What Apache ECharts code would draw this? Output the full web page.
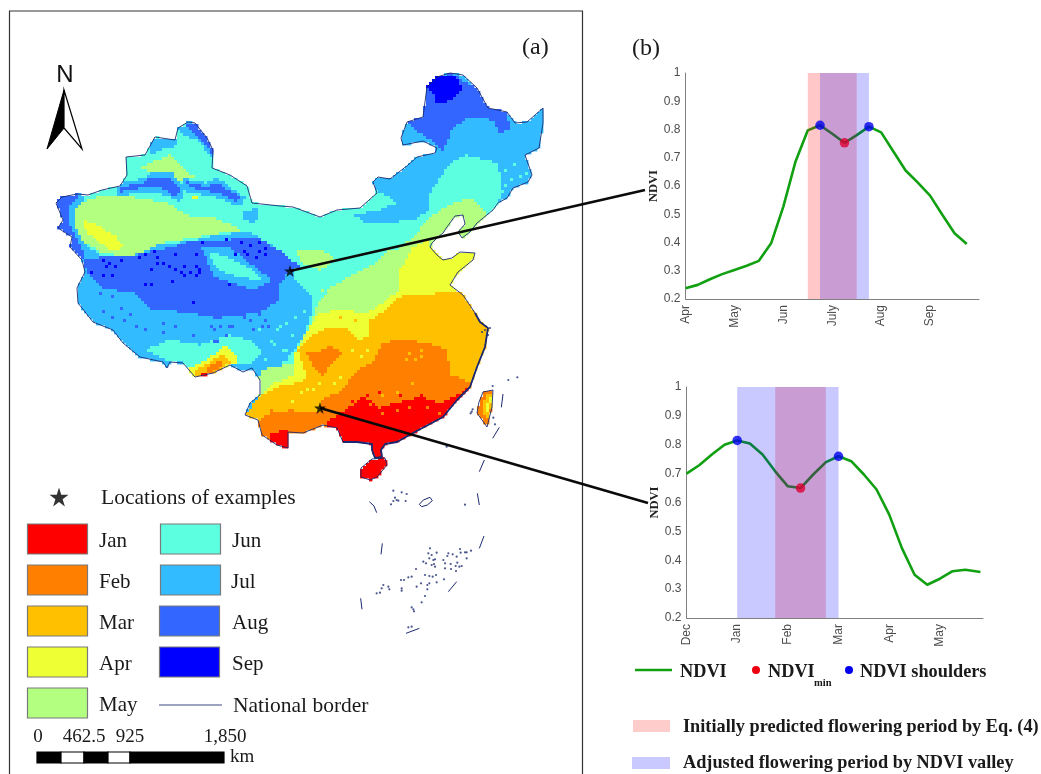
<!DOCTYPE html>
<html><head><meta charset="utf-8">
<style>html,body{margin:0;padding:0;background:#fff}#c{width:1041px;height:774px}</style>
<script src="https://cdn.jsdelivr.net/npm/echarts@6/dist/echarts.min.js"></script>
</head><body><div id="c"></div>
<script>
// ---------- panel (b) data ----------
const monthsTop = ['Apr','May','Jun','July','Aug','Sep',''];
const xTop = [0,1,2,3,4,5,6,7,8,9,10,11,12,13,14,15,16,17,18,19,20,21,22,23];
const ndviTop = [.238,.25,.27,.288,.303,.318,.335,.397,.527,.687,.797,.815,.785,.753,.78,.81,.79,.722,.655,.612,.566,.498,.433,.395];
const shouldersTop = [[11,.815],[15,.81]];
const minTop = [[13,.753]];
const predictedTop = [10,14];
const adjustedTop = [11,15];

const monthsBottom = ['Dec','Jan','Feb','Mar','Apr','May'];
const xBottom = [0,1,2,3,4,5,6,7,8,9,10,11,12,13,14,15,16,17,18,19,20,21,22,23.2];
const ndviBottom = [.7,.729,.766,.8,.815,.804,.766,.708,.656,.65,.697,.74,.76,.743,.697,.645,.558,.442,.35,.315,.336,.362,.367,.359];
const shouldersBottom = [[4,.815],[12,.76]];
const minBottom = [[9,.65]];
const predictedBottom = [7,11];
const adjustedBottom = [4,12];

// ---------- panel (a) data, in map units ----------
const monthNames = ['Jan','Feb','Mar','Apr','May','Jun','Jul','Aug','Sep'];
const monthColors = ['#FF0000','#FF7F00','#FFC000','#EEFF33','#B3FF80','#5CFFE0','#33BBFF','#3366FF','#0000FF'];
const mainland = [[56,203],[62,197],[77,194],[88,195],[102,190],[120,186],[127,175],[126,157],[145,155],[155,137],[175,140],[178,128],[188,122],[195,123],[207,138],[213,150],[212,168],[230,175],[247,186],[252,203],[280,206],[293,207],[320,217],[337,210],[360,208],[377,193],[373,182],[378,177],[390,179],[408,165],[417,157],[435,153],[437,148],[423,141],[403,145],[401,138],[407,122],[423,117],[427,87],[437,77],[450,73],[463,75],[477,88],[488,108],[507,112],[515,123],[527,122],[543,108],[543,123],[539,148],[525,155],[532,175],[528,182],[513,188],[507,198],[498,203],[493,210],[477,223],[470,232],[462,238],[458,232],[465,224],[463,215],[455,216],[447,227],[443,233],[438,237],[432,243],[430,247],[437,255],[443,260],[452,258],[460,252],[475,253],[473,260],[458,272],[450,285],[463,295],[475,313],[480,322],[488,328],[485,347],[477,367],[470,387],[457,400],[443,417],[413,433],[397,442],[385,444],[381,450],[382,457],[375,458],[372,450],[372,444],[357,442],[343,442],[337,428],[323,425],[303,433],[288,432],[288,448],[277,445],[262,435],[258,420],[245,415],[250,403],[260,395],[260,380],[252,368],[243,372],[230,365],[213,373],[195,377],[183,363],[170,362],[167,368],[163,362],[140,357],[123,343],[113,330],[93,322],[78,303],[77,288],[85,272],[82,260],[70,247],[72,237],[58,228],[63,220],[56,203]];
const southeastCoast = [[475,313],[480,322],[488,328],[485,347],[477,367],[470,387],[457,400],[443,417],[413,433],[397,442],[385,444],[381,450],[382,457],[375,458],[372,450],[372,444],[357,442],[343,442]];
const hainan = [[361,468],[372,459],[385,458],[387,465],[377,477],[370,480],[361,477],[361,468]];
const taiwan = [[483,392],[493,390],[492,407],[487,427],[477,413],[479,402],[483,392]];

const junNorth = [[50,190],[120,178],[125,150],[155,128],[178,118],[215,148],[250,178],[290,198],[320,212],[337,205],[377,190],[397,203],[380,210],[352,215],[367,223],[387,223],[413,220],[430,210],[430,193],[450,163],[467,155],[497,163],[500,173],[503,193],[497,203],[480,225],[500,300],[500,490],[255,490],[262,372],[280,367],[295,350],[303,337],[313,310],[312,297],[293,277],[295,265],[280,250],[250,232],[215,235],[187,242],[153,245],[125,258],[100,255],[78,240],[72,232],[60,215]];
const julDzungarRim = [[150,138],[175,138],[178,145],[160,150],[150,155]];
const mayTarim = [[72,207],[97,197],[120,195],[168,203],[190,217],[213,217],[243,230],[197,237],[163,243],[130,257],[100,252],[77,237],[70,220]];
const aprTarim = [[82,220],[93,223],[117,237],[123,248],[110,250],[87,233]];
const mayDzungar = [[140,167],[170,155],[187,173],[197,177],[173,185],[153,173]];
const aprTurpan = [[190,195],[198,197],[193,200]];
const julAltai = [[178,128],[195,123],[215,150],[213,160],[200,142],[185,135]];
const augAltai = [[187,123],[195,123],[213,147],[213,155],[207,147],[197,135],[187,128]];
const julTian1 = [[118,183],[145,178],[150,172],[172,172],[185,190],[180,202],[160,193],[140,193],[118,196]];
const augTian1 = [[120,187],[143,183],[150,177],[170,177],[180,190],[177,197],[160,188],[140,188],[120,192]];
const julTian2 = [[183,178],[207,183],[217,178],[245,197],[240,207],[220,198],[203,195],[183,191]];
const augTian2 = [[187,182],[207,187],[217,183],[240,197],[237,202],[220,193],[203,190],[188,187]];
const julHami = [[243,212],[258,208],[258,220],[250,223],[242,218]];
const julWest = [[56,203],[62,197],[88,193],[80,204],[74,212],[76,228],[90,255],[82,262],[70,247],[58,228]];
const augWest = [[56,203],[62,197],[77,194],[80,197],[70,206],[68,222],[75,235],[85,255],[82,260],[70,245],[58,228]];
const augTibet = [[83,258],[113,257],[137,255],[170,247],[197,240],[227,240],[257,237],[283,253],[300,267],[287,273],[280,285],[278,302],[257,313],[217,318],[187,312],[153,310],[133,293],[103,288],[87,273]];
const julQaidam = [[200,246],[230,248],[272,280],[255,290],[215,277]];
const junQaidam = [[210,252],[226,256],[257,273],[263,280],[243,278],[223,272],[212,262]];
const augNortheast = [[407,122],[423,117],[427,87],[450,73],[477,88],[488,108],[507,112],[510,130],[500,133],[493,120],[470,117],[453,128],[443,150],[428,138],[417,132]];
const sepNortheast = [[427,87],[437,77],[457,77],[463,90],[453,100],[437,105],[433,93]];
const junTibetSouth = [[145,350],[170,340],[200,345],[230,335],[250,340],[262,352],[250,365],[230,365],[213,372],[195,376],[183,362],[165,360]];
const aprTibetSouth = [[187,370],[210,357],[227,345],[240,362],[230,365],[213,373],[195,377]];
const marTibetSouth = [[193,372],[210,362],[223,353],[230,363],[213,373],[197,377]];
const febTibetSouth = [[203,370],[218,362],[227,363],[210,373]];
const janTibetSouth = [[196,375],[208,374],[207,378],[197,379]];
const mayEast = [[260,370],[293,363],[297,347],[310,327],[317,307],[330,287],[353,275],[377,262],[387,250],[397,250],[413,237],[430,217],[453,203],[473,198],[490,215],[510,490],[250,490]];
const mayPatch = [[297,250],[323,250],[337,260],[320,270],[300,262]];
const aprEast = [[260,397],[270,385],[295,375],[293,355],[303,340],[310,325],[320,313],[343,310],[367,313],[380,305],[400,290],[400,270],[413,247],[430,240],[430,247],[443,260],[460,252],[475,253],[490,260],[510,490],[250,490]];
const marEast = [[247,413],[258,397],[277,387],[297,383],[307,378],[302,363],[298,350],[313,335],[330,327],[350,330],[358,340],[370,337],[370,320],[387,310],[398,297],[450,292],[463,293],[510,300],[510,490],[245,490]];
const febSichuan = [[307,353],[323,350],[330,345],[343,353],[333,363],[323,375],[313,367]];
const febEast = [[255,423],[270,413],[290,410],[320,413],[323,398],[340,393],[347,383],[357,370],[373,363],[383,343],[403,339],[427,343],[447,350],[450,373],[467,382],[475,385],[510,490],[250,490]];
const janEast = [[328,420],[347,410],[363,397],[380,407],[397,403],[420,397],[440,403],[460,393],[470,387],[510,490],[330,490]];
const janWest = [[268,433],[288,430],[290,450],[275,448]];
const febTaiwan = [[475,388],[495,388],[495,430],[475,430]];
const marTaiwan = [[486,395],[492,394],[491,408],[487,418],[482,410]];
const aprTaiwan = [[488,398],[491,398],[490,410],[486,413]];

// month index, polygon: painted in this order, later over earlier
const mapLayers = [[5,junNorth],[6,julDzungarRim],[4,mayTarim],[3,aprTarim],[4,mayDzungar],[3,aprTurpan],[6,julAltai],[7,augAltai],[6,julTian1],[7,augTian1],[6,julTian2],[7,augTian2],[6,julHami],[6,julWest],[7,augWest],[7,augTibet],[6,julQaidam],[5,junQaidam],[7,augNortheast],[8,sepNortheast],[5,junTibetSouth],[3,aprTibetSouth],[2,marTibetSouth],[1,febTibetSouth],[0,janTibetSouth],[4,mayEast],[4,mayPatch],[3,aprEast],[2,marEast],[1,febSichuan],[1,febEast],[0,janEast],[0,janWest],[1,febTaiwan],[2,marTaiwan],[3,aprTaiwan]];

const speckSepTibet = [[100,90],[120,100],[135,105],[110,105],[150,95],[210,80],[230,70],[255,68],[315,70],[265,80],[280,100],[300,105],[265,103],[240,115],[380,75],[380,105],[385,115],[345,105],[320,115],[330,130],[360,125],[390,130],[310,150],[345,140],[375,140],[225,160],[240,160],[370,220],[60,125],[100,135],[130,140],[480,160],[510,40],[520,65],[545,50],[565,60],[530,75],[555,85],[590,55],[590,75],[465,30],[395,35],[495,70],[570,35]];
const speckAugTibet = [[90,190],[130,200],[150,235],[185,255],[225,295],[280,280],[280,310],[320,285],[200,290],[240,235],[130,260],[160,275],[420,290],[430,330],[370,320],[480,290],[520,260],[580,290],[465,320],[100,240],[420,220],[550,300],[430,200],[590,270]];
const speckJunTibet = [[250,350],[300,360],[340,340],[400,360],[440,350],[530,340],[570,300],[600,330],[620,300],[640,360],[650,280],[680,260]];
const speckMarEast = [[690,310],[705,330],[720,320],[680,330],[725,305],[830,345],[845,365],[815,370],[700,400],[655,430],[610,440],[480,200],[500,215],[530,210],[430,395]];
const speckFebEast = [[575,460],[610,490],[650,480],[690,470],[740,470],[780,490],[800,500],[600,470],[640,455],[300,490],[270,480],[350,510],[245,510],[280,510],[320,500]];
const speckJanEast = [[560,440],[600,425],[660,440],[720,435],[510,470],[750,455],[520,450]];
const speckAprEast = [[520,300],[545,320],[560,300],[480,385],[460,400],[360,430],[385,420],[335,450],[420,400],[400,415],[500,210],[520,205],[490,200]];
const speckMayEast = [[480,130],[520,110],[560,90],[560,150],[620,100],[600,60],[430,120],[480,170],[530,165],[420,160]];
const speckJunEast = [[300,230],[280,280],[340,260],[320,300],[260,330],[310,340],[220,300],[370,180]];
const speckAugEast = [[120,230],[100,240],[210,210],[240,190],[160,230],[265,230],[110,270]];
const speckJunNortheast = [[680,330],[700,310],[690,360],[720,350],[675,380],[735,340],[650,350]];
const speckLayers = [[8,70,230,speckSepTibet],[7,70,230,speckAugTibet],[5,70,230,speckJunTibet],[2,180,250,speckMarEast],[1,180,250,speckFebEast],[0,180,250,speckJanEast],[3,180,250,speckAprEast],[4,180,250,speckMayEast],[5,180,250,speckJunEast],[7,180,250,speckAugEast],[5,280,60,speckJunNortheast]];

// South China Sea marks, at 3x crop scale with origin (340,370)
const seaDashes = [[[88,395],[102,408],[110,428]],[[127,520],[123,553]],[[62,685],[66,718]],[[198,790],[238,775]],[[325,665],[350,635]],[[418,535],[432,498]],[[412,370],[418,405]],[[418,305],[433,270]],[[458,205],[478,172]],[[484,112],[489,72]],[[238,403],[250,390],[270,382],[277,392],[262,405],[245,410],[238,403]]];
const seaIslands = [[270,535],[265,550],[275,555],[290,548],[268,565],[280,570],[285,568],[275,585],[282,582],[258,580],[250,575],[285,590],[228,597],[205,622],[215,620],[183,630],[192,630],[255,615],[268,618],[278,620],[288,615],[243,640],[262,645],[290,637],[268,640],[312,628],[262,658],[185,655],[185,662],[230,650],[145,650],[148,658],[130,645],[125,655],[110,670],[120,668],[255,678],[245,697],[220,718],[215,712],[222,724],[325,550],[322,558],[338,553],[350,560],[360,537],[375,547],[380,547],[393,542],[362,548],[380,565],[352,578],[310,570],[315,580],[332,582],[347,588],[358,590],[315,595],[333,597],[348,603],[365,588],[205,772],[215,770],[160,362],[185,367],[200,372],[165,383],[170,390],[175,392],[197,393],[160,393],[153,403],[375,404],[395,125],[392,130],[398,118],[505,30],[532,22],[458,48],[460,143],[465,163],[320,230],[435,-120],[450,-126],[444,-105],[426,-114]];

const exampleSites = [[290,271],[320,408]];
const connectorTop = [[290,271],[645,190]];
const connectorBottom = [[320,408],[648,503]];

// ---------- build map cells ----------
function inside(p, poly){
  let c=false;
  for(let i=0,j=poly.length-1;i<poly.length;j=i++){
    const a=poly[i],b=poly[j];
    if((a[1]>p[1])!==(b[1]>p[1]) && p[0]<(b[0]-a[0])*(p[1]-a[1])/(b[1]-a[1])+a[0]) c=!c;
  }
  return c;
}
const CELL=3, X0=54, Y0=70;
const cellMap={};
for(let x=X0;x<550;x+=CELL)for(let y=Y0;y<485;y+=CELL){
  const p=[x+CELL/2,y+CELL/2];
  if(!(inside(p,mainland)||inside(p,hainan)||inside(p,taiwan))) continue;
  let m=6;
  for(const l of mapLayers) if(inside(p,l[1])) m=l[0];
  cellMap[x+'_'+y]=[x,y,m];
}
for(const s of speckLayers) for(const q of s[3]){
  const px=s[1]+q[0]/3, py=s[2]+q[1]/3;
  const x=X0+Math.floor((px-X0)/CELL)*CELL, y=Y0+Math.floor((py-Y0)/CELL)*CELL;
  if(cellMap[x+'_'+y]) cellMap[x+'_'+y][2]=s[0];
}
const cells=Object.values(cellMap);
const seaPt=q=>[340+q[0]/3,370+q[1]/3];

// ---------- helpers ----------
const serif='"Liberation Serif","Times New Roman",serif';
const sans='"Liberation Sans",Arial,sans-serif';
const T=(x,y,text,size,opt={})=>({type:'text',z:50,style:{x,y,text,fill:opt.fill||'#1a1a1a',font:(opt.bold?'bold ':'')+size+'px '+(opt.family||serif),textAlign:opt.align||'left',textVerticalAlign:'middle'}});
const R=(x,y,w,h,fill,stroke)=>({type:'rect',z:50,shape:{x,y,width:w,height:h},style:{fill,stroke:stroke||null,lineWidth:stroke?1.2:0}});
const borderBlue='#1b2a70';
const starPath='path://M50 0 L61.8 36.2 L100 36.2 L69.1 58.6 L80.9 95.1 L50 72.7 L19.1 95.1 L30.9 58.6 L0 36.2 L38.2 36.2 Z';

const legendLeft=[[0,524],[1,565],[2,606],[3,647],[4,688]];
const legendRight=[[5,524],[6,565],[7,606],[8,647]];
const graphics=[
  {type:'rect',z:1,shape:{x:9.5,y:11,width:573,height:790},style:{fill:'none',stroke:'#333',lineWidth:1.2}},
  T(522,48,'(a)',24), T(632,49,'(b)',24),
  T(65,75,'N',24,{family:sans,align:'center',fill:'#111'}),
  {type:'polygon',z:50,shape:{points:[[64,90],[47,149],[64,128]]},style:{fill:'#000',stroke:'#000',lineWidth:1}},
  {type:'polygon',z:50,shape:{points:[[64,90],[82,149],[64,128]]},style:{fill:'#fff',stroke:'#000',lineWidth:1.2}},
  T(101,498,'Locations of examples',21.5)
];
legendLeft.forEach(l=>{graphics.push(R(27.5,l[1],60,30,monthColors[l[0]],'#7a7a7a'));graphics.push(T(99,l[1]+17,monthNames[l[0]],21));});
legendRight.forEach((l,i)=>{const x=i<2?160.5:159.5;graphics.push(R(x,l[1],60,30,monthColors[l[0]],'#7a7a7a'));graphics.push(T(i===1?231:232,l[1]+17,monthNames[l[0]],21));});
graphics.push({type:'line',z:50,shape:{x1:159,y1:705,x2:222,y2:705},style:{stroke:'#3a4a80',lineWidth:1.2}});
graphics.push(T(233,706,'National border',21.5));
[['0',38],['462.5',84],['925',130],['1,850',225]].forEach(s=>graphics.push(T(s[1],737,s[0],19,{align:'center'})));
[[37,24,'#000'],[61,23,'#fff'],[84,24,'#000'],[108,22,'#fff'],[130,94,'#000']].forEach(b=>graphics.push(R(b[0],752,b[1],11,b[2],'#000')));
graphics.push(T(230,757,'km',19));
// right legend
graphics.push({type:'line',z:50,shape:{x1:635,y1:670,x2:672,y2:670},style:{stroke:'#11A011',lineWidth:2.5}});
graphics.push(T(680,672,'NDVI',18.3,{bold:true}));
graphics.push({type:'circle',z:50,shape:{cx:756,cy:670,r:4},style:{fill:'#EE0011'}});
graphics.push(T(768,672,'NDVI',18.3,{bold:true}));
graphics.push(T(814,683,'min',10.5,{bold:true}));
graphics.push({type:'circle',z:50,shape:{cx:849,cy:670,r:4},style:{fill:'#0000EE'}});
graphics.push(T(860,672,'NDVI shoulders',18.3,{bold:true}));
graphics.push(R(633,720,37,12,'#FFCCCC'));
graphics.push(T(683,727,'Initially predicted flowering period by Eq. (4)',18.3,{bold:true}));
graphics.push(R(632,757,38,12,'#C9C9FF'));
graphics.push(T(683,763,'Adjusted flowering period by NDVI valley',18.3,{bold:true}));

const pinkBand='rgba(255,0,0,0.22)', blueBand='rgba(0,0,255,0.21)';
function panel(idx,xs,ys,shoulders,mins,pred,adj){
  const g=idx+1;
  const ndviData=xs.map((x,i)=>[x,ys[i]]);
  return [
    {type:'line',name:'NDVI',xAxisIndex:g,yAxisIndex:g,data:ndviData,showSymbol:false,lineStyle:{color:'#11A011',width:2.6},z:2,silent:true,
      markArea:{silent:true,z:3,data:[
        [{xAxis:pred[0],yAxis:.2,itemStyle:{color:pinkBand}},{xAxis:pred[1],yAxis:1}],
        [{xAxis:adj[0],yAxis:.2,itemStyle:{color:blueBand}},{xAxis:adj[1],yAxis:1}]
      ]}},
    {type:'scatter',name:'NDVI shoulders',xAxisIndex:g,yAxisIndex:g,data:shoulders,symbolSize:9.5,itemStyle:{color:'#0000EE'},z:6,silent:true},
    {type:'scatter',name:'NDVImin',xAxisIndex:g,yAxisIndex:g,data:mins,symbolSize:9.5,itemStyle:{color:'#DD0033'},z:6,silent:true}
  ];
}
function xAx(g,max,labels){
  return {type:'value',gridIndex:g,min:0,max,interval:4,splitLine:{show:false},axisTick:{show:false},
    axisLine:{show:true,onZero:false,lineStyle:{color:'#808080',width:1}},
    axisLabel:{rotate:90,color:'#4d4d4d',fontSize:12,fontFamily:sans,margin:6,showMaxLabel:false,hideOverlap:false,
      formatter:v=>(v%4===0?(labels[v/4]||''):'')}};
}
function yAx(g){
  return {type:'value',gridIndex:g,min:.2,max:1,interval:.1,splitLine:{show:false},axisTick:{show:false},
    name:'NDVI',nameLocation:'middle',nameRotate:90,nameGap:24,nameTextStyle:{fontFamily:serif,fontWeight:'bold',fontSize:12.5,color:'#222'},
    axisLine:{show:true,onZero:false,lineStyle:{color:'#808080',width:1}},
    axisLabel:{color:'#4d4d4d',fontSize:12,fontFamily:sans,margin:5,formatter:v=>(Math.abs(v-1)<1e-6?'1':v.toFixed(1))}};
}

const chart=echarts.init(document.getElementById('c'),null,{renderer:'canvas'});
chart.setOption({
  animation:false,backgroundColor:'#fff',
  grid:[
    {left:0,top:0,width:1041,height:774},
    {left:685.5,top:73,width:293.5,height:226},
    {left:686.5,top:387,width:296.5,height:231}
  ],
  xAxis:[{type:'value',gridIndex:0,min:0,max:1041,show:false},xAx(1,24,monthsTop),xAx(2,23.4,monthsBottom)],
  yAxis:[{type:'value',gridIndex:0,min:0,max:774,inverse:true,show:false},yAx(1),yAx(2)],
  graphic:{elements:graphics},
  series:[
    {type:'custom',name:'Flowering month',xAxisIndex:0,yAxisIndex:0,data:cells,silent:true,z:2,progressive:0,
      renderItem:(params,api)=>{
        const a=api.coord([api.value(0),api.value(1)]),b=api.coord([api.value(0)+CELL,api.value(1)+CELL]);
        return {type:'rect',shape:{x:a[0],y:a[1],width:b[0]-a[0]+.4,height:b[1]-a[1]+.4},style:{fill:monthColors[api.value(2)]}};
      }},
    ...[mainland,hainan,taiwan].map(o=>({type:'line',name:'National border',xAxisIndex:0,yAxisIndex:0,data:o,showSymbol:false,silent:true,z:3,lineStyle:{color:borderBlue,width:.9}})),
    {type:'line',name:'National border',xAxisIndex:0,yAxisIndex:0,data:southeastCoast,showSymbol:false,silent:true,z:3,lineStyle:{color:borderBlue,width:1.8}},
    ...seaDashes.map(d=>({type:'line',name:'National border',xAxisIndex:0,yAxisIndex:0,data:d.map(seaPt),showSymbol:false,silent:true,z:3,lineStyle:{color:borderBlue,width:1}})),
    {type:'scatter',name:'Islands',xAxisIndex:0,yAxisIndex:0,data:seaIslands.map(seaPt),symbolSize:2.2,itemStyle:{color:borderBlue},silent:true,z:3},
    ...panel(0,xTop,ndviTop,shouldersTop,minTop,predictedTop,adjustedTop),
    ...panel(1,xBottom,ndviBottom,shouldersBottom,minBottom,predictedBottom,adjustedBottom),
    ...[connectorTop,connectorBottom].map(c=>({type:'line',name:'Connector',xAxisIndex:0,yAxisIndex:0,data:c,showSymbol:false,silent:true,z:8,lineStyle:{color:'#0a0a0a',width:2.6}})),
    {type:'scatter',name:'Locations of examples',xAxisIndex:0,yAxisIndex:0,data:exampleSites,symbol:starPath,symbolSize:12,itemStyle:{color:'#000'},silent:true,z:9},
    {type:'scatter',name:'Legend star',xAxisIndex:0,yAxisIndex:0,data:[[59,497]],symbol:starPath,symbolSize:19,itemStyle:{color:'#000'},silent:true,z:9}
  ]
});
</script></body></html>
